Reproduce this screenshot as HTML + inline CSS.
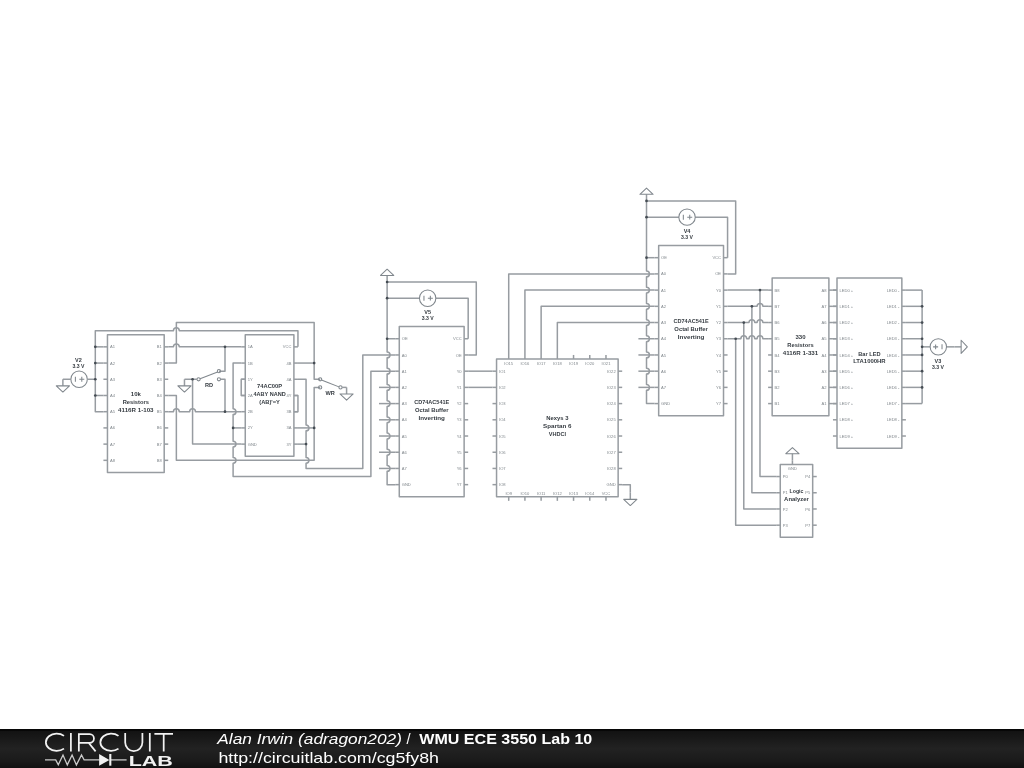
<!DOCTYPE html>
<html><head><meta charset="utf-8"><title>WMU ECE 3550 Lab 10 - CircuitLab</title>
<style>
html,body{margin:0;padding:0;background:#fff;}
body{width:1024px;height:768px;overflow:hidden;position:relative;font-family:"Liberation Sans",sans-serif;}
#sch{position:absolute;left:0;top:0;will-change:transform;}
svg .t{stroke:#80878d;stroke-width:1.05px;}
#ft{position:absolute;left:0;top:729px;width:1024px;height:39px;overflow:hidden;will-change:transform;}
</style></head><body>
<svg id="sch" width="1024" height="768" viewBox="0 0 1024 768">
<g fill="none" stroke="#979ca1" stroke-width="1.5" stroke-linejoin="round" stroke-linecap="butt">
<rect x="107.46" y="334.69" width="56.74" height="137.8"/>
<path d="M103.41 346.85 L107.46 346.85"/>
<path d="M103.41 363.06 L107.46 363.06"/>
<path d="M103.41 379.27 L107.46 379.27"/>
<path d="M103.41 395.49 L107.46 395.49"/>
<path d="M103.41 411.7 L107.46 411.7"/>
<path d="M103.41 427.91 L107.46 427.91"/>
<path d="M103.41 444.12 L107.46 444.12"/>
<path d="M103.41 460.33 L107.46 460.33"/>
<path d="M164.2 346.85 L168.25 346.85"/>
<path d="M164.2 363.06 L168.25 363.06"/>
<path d="M164.2 379.27 L168.25 379.27"/>
<path d="M164.2 395.49 L168.25 395.49"/>
<path d="M164.2 411.7 L168.25 411.7"/>
<path d="M164.2 427.91 L168.25 427.91"/>
<path d="M164.2 444.12 L168.25 444.12"/>
<path d="M164.2 460.33 L168.25 460.33"/>
<circle cx="79.09" cy="379.27" r="8.2" class="t"/>
<path d="M75.39 376.77 V381.77" class="t"/>
<path d="M79.29 379.27 H84.29 M81.79 376.87 V381.67" class="t"/>
<path d="M87.19 379.27 L95.3 379.27"/>
<path d="M70.98 379.27 L62.88 379.27"/>
<path d="M62.88 379.27 V385.87"/>
<path d="M56.28 385.87 H69.48 L62.88 392.07 Z" class="t"/>
<path d="M297.95 346.85 L297.95 330.64 L179.26 330.64 A2.9 2.9 0 0 0 173.46 330.64 L95.3 330.64 L95.3 411.7 L103.41 411.7"/>
<path d="M95.3 346.85 L103.41 346.85"/>
<path d="M95.3 363.06 L103.41 363.06"/>
<path d="M95.3 395.49 L103.41 395.49"/>
<path d="M168.25 363.06 L176.36 363.06 L176.36 322.53 L314.16 322.53 L314.16 379.27 L320.16 379.27"/>
<path d="M168.25 346.85 L173.46 346.85 A2.9 2.9 0 0 1 179.26 346.85 L241.21 346.85"/>
<path d="M225 346.85 L225 371.17 L218.92 371.17"/>
<circle cx="198.57" cy="379.27" r="1.6" class="t"/>
<circle cx="218.92" cy="371.17" r="1.6" class="t"/>
<circle cx="218.92" cy="379.27" r="1.6" class="t"/>
<path d="M200.07 378.77 L217.62 372.07" class="t"/>
<path d="M192.57 379.27 L196.95 379.27"/>
<path d="M220.54 379.27 L225 379.27 L225 411.7"/>
<path d="M192.57 379.27 L184.47 379.27"/>
<path d="M184.47 379.27 V385.87"/>
<path d="M177.87 385.87 H191.07 L184.47 392.07 Z" class="t"/>
<path d="M192.57 379.27 L192.57 444.12 L241.21 444.12"/>
<path d="M168.25 411.7 L173.46 411.7 A2.9 2.9 0 0 1 179.26 411.7 L189.67 411.7 A2.9 2.9 0 0 1 195.47 411.7 L241.21 411.7"/>
<path d="M168.25 395.49 L176.36 395.49 L176.36 460.33 L314.16 460.33 L314.16 387.38 L320.16 387.38"/>
<path d="M297.95 363.06 L314.16 363.06"/>
<path d="M241.21 363.06 L233.1 363.06 L233.1 408.8 A2.9 2.9 0 0 1 233.1 414.6 L233.1 441.22 A2.9 2.9 0 0 1 233.1 447.02 L233.1 457.43 A2.9 2.9 0 0 1 233.1 463.23 L233.1 476.55 L370.9 476.55 L370.9 371.17 L395.22 371.17"/>
<path d="M233.1 427.91 L241.21 427.91"/>
<path d="M245.26 379.27 L241.21 379.27 L241.21 395.49 L245.26 395.49"/>
<path d="M293.9 395.49 L297.95 395.49 L297.95 411.7 L293.9 411.7"/>
<path d="M297.95 379.27 L306.06 379.27 L306.06 425.01 A2.9 2.9 0 0 1 306.06 430.81 L306.06 457.43 A2.9 2.9 0 0 1 306.06 463.23 L306.06 468.44 L362.8 468.44 L362.8 354.96 L395.22 354.96"/>
<path d="M297.95 444.12 L306.06 444.12"/>
<path d="M297.95 427.91 L314.16 427.91"/>
<rect x="245.26" y="334.69" width="48.64" height="121.59"/>
<path d="M241.21 346.85 L245.26 346.85"/>
<path d="M241.21 363.06 L245.26 363.06"/>
<path d="M241.21 379.27 L245.26 379.27"/>
<path d="M241.21 395.49 L245.26 395.49"/>
<path d="M241.21 411.7 L245.26 411.7"/>
<path d="M241.21 427.91 L245.26 427.91"/>
<path d="M241.21 444.12 L245.26 444.12"/>
<path d="M293.9 346.85 L297.95 346.85"/>
<path d="M293.9 363.06 L297.95 363.06"/>
<path d="M293.9 379.27 L297.95 379.27"/>
<path d="M293.9 395.49 L297.95 395.49"/>
<path d="M293.9 411.7 L297.95 411.7"/>
<path d="M293.9 427.91 L297.95 427.91"/>
<path d="M293.9 444.12 L297.95 444.12"/>
<circle cx="320.16" cy="379.27" r="1.6" class="t"/>
<circle cx="320.16" cy="387.38" r="1.6" class="t"/>
<circle cx="340.51" cy="387.38" r="1.6" class="t"/>
<path d="M321.46 380.07 L339.01 386.88" class="t"/>
<path d="M342.13 387.38 L346.59 387.38"/>
<path d="M346.59 387.38 V393.98"/>
<path d="M339.99 393.98 H353.19 L346.59 400.18 Z" class="t"/>
<rect x="399.28" y="326.59" width="64.85" height="170.23"/>
<path d="M395.22 338.74 L399.28 338.74"/>
<path d="M395.22 354.96 L399.28 354.96"/>
<path d="M395.22 371.17 L399.28 371.17"/>
<path d="M395.22 387.38 L399.28 387.38"/>
<path d="M395.22 403.59 L399.28 403.59"/>
<path d="M395.22 419.8 L399.28 419.8"/>
<path d="M395.22 436.02 L399.28 436.02"/>
<path d="M395.22 452.23 L399.28 452.23"/>
<path d="M395.22 468.44 L399.28 468.44"/>
<path d="M395.22 484.65 L399.28 484.65"/>
<path d="M464.12 338.74 L468.18 338.74"/>
<path d="M464.12 354.96 L468.18 354.96"/>
<path d="M464.12 371.17 L468.18 371.17"/>
<path d="M464.12 387.38 L468.18 387.38"/>
<path d="M464.12 403.59 L468.18 403.59"/>
<path d="M464.12 419.8 L468.18 419.8"/>
<path d="M464.12 436.02 L468.18 436.02"/>
<path d="M464.12 452.23 L468.18 452.23"/>
<path d="M464.12 468.44 L468.18 468.44"/>
<path d="M464.12 484.65 L468.18 484.65"/>
<path d="M387.12 282 L387.12 352.06 A2.9 2.9 0 0 1 387.12 357.86 L387.12 368.27 A2.9 2.9 0 0 1 387.12 374.07 L387.12 384.48 A2.9 2.9 0 0 1 387.12 390.28 L387.12 400.69 A2.9 2.9 0 0 1 387.12 406.49 L387.12 416.9 A2.9 2.9 0 0 1 387.12 422.7 L387.12 433.12 A2.9 2.9 0 0 1 387.12 438.92 L387.12 449.33 A2.9 2.9 0 0 1 387.12 455.13 L387.12 465.54 A2.9 2.9 0 0 1 387.12 471.34 L387.12 484.65 L395.22 484.65"/>
<path d="M387.12 282 V275.4"/>
<path d="M380.52 275.4 H393.72 L387.12 269.2 Z" class="t"/>
<path d="M387.12 338.74 L395.22 338.74"/>
<path d="M387.12 282 L476.28 282 L476.28 354.96 L468.18 354.96"/>
<path d="M387.12 298.21 L419.54 298.21"/>
<path d="M435.75 298.21 L468.18 298.21 L468.18 338.74"/>
<circle cx="427.65" cy="298.21" r="8.2" class="t"/>
<path d="M423.95 295.71 V300.71" class="t"/>
<path d="M427.85 298.21 H432.85 M430.35 295.81 V300.61" class="t"/>
<path d="M379.01 387.38 L395.22 387.38"/>
<path d="M379.01 403.59 L395.22 403.59"/>
<path d="M379.01 419.8 L395.22 419.8"/>
<path d="M379.01 436.02 L395.22 436.02"/>
<path d="M379.01 452.23 L395.22 452.23"/>
<path d="M379.01 468.44 L395.22 468.44"/>
<path d="M468.18 371.17 L492.49 371.17"/>
<path d="M468.18 387.38 L492.49 387.38"/>
<rect x="496.55" y="359.01" width="121.59" height="137.8"/>
<path d="M492.49 371.17 L496.55 371.17"/>
<path d="M492.49 387.38 L496.55 387.38"/>
<path d="M492.49 403.59 L496.55 403.59"/>
<path d="M492.49 419.8 L496.55 419.8"/>
<path d="M492.49 436.02 L496.55 436.02"/>
<path d="M492.49 452.23 L496.55 452.23"/>
<path d="M492.49 468.44 L496.55 468.44"/>
<path d="M492.49 484.65 L496.55 484.65"/>
<path d="M618.14 371.17 L622.19 371.17"/>
<path d="M618.14 387.38 L622.19 387.38"/>
<path d="M618.14 403.59 L622.19 403.59"/>
<path d="M618.14 419.8 L622.19 419.8"/>
<path d="M618.14 436.02 L622.19 436.02"/>
<path d="M618.14 452.23 L622.19 452.23"/>
<path d="M618.14 468.44 L622.19 468.44"/>
<path d="M618.14 484.65 L622.19 484.65"/>
<path d="M508.71 354.96 L508.71 359.01"/>
<path d="M524.92 354.96 L524.92 359.01"/>
<path d="M541.13 354.96 L541.13 359.01"/>
<path d="M557.34 354.96 L557.34 359.01"/>
<path d="M573.55 354.96 L573.55 359.01"/>
<path d="M589.77 354.96 L589.77 359.01"/>
<path d="M605.98 354.96 L605.98 359.01"/>
<path d="M508.71 496.81 L508.71 500.86"/>
<path d="M524.92 496.81 L524.92 500.86"/>
<path d="M541.13 496.81 L541.13 500.86"/>
<path d="M557.34 496.81 L557.34 500.86"/>
<path d="M573.55 496.81 L573.55 500.86"/>
<path d="M589.77 496.81 L589.77 500.86"/>
<path d="M605.98 496.81 L605.98 500.86"/>
<path d="M622.19 484.65 L630.3 484.65 L630.3 492.76"/>
<path d="M630.3 492.76 V499.36"/>
<path d="M623.7 499.36 H636.9 L630.3 505.56 Z" class="t"/>
<path d="M508.71 354.96 L508.71 273.9 L654.61 273.9"/>
<path d="M524.92 354.96 L524.92 290.11 L654.61 290.11"/>
<path d="M541.13 354.96 L541.13 306.32 L654.61 306.32"/>
<path d="M557.34 354.96 L557.34 322.53 L654.61 322.53"/>
<rect x="658.67" y="245.53" width="64.85" height="170.23"/>
<path d="M654.61 257.68 L658.67 257.68"/>
<path d="M654.61 273.9 L658.67 273.9"/>
<path d="M654.61 290.11 L658.67 290.11"/>
<path d="M654.61 306.32 L658.67 306.32"/>
<path d="M654.61 322.53 L658.67 322.53"/>
<path d="M654.61 338.74 L658.67 338.74"/>
<path d="M654.61 354.96 L658.67 354.96"/>
<path d="M654.61 371.17 L658.67 371.17"/>
<path d="M654.61 387.38 L658.67 387.38"/>
<path d="M654.61 403.59 L658.67 403.59"/>
<path d="M723.51 257.68 L727.57 257.68"/>
<path d="M723.51 273.9 L727.57 273.9"/>
<path d="M723.51 290.11 L727.57 290.11"/>
<path d="M723.51 306.32 L727.57 306.32"/>
<path d="M723.51 322.53 L727.57 322.53"/>
<path d="M723.51 338.74 L727.57 338.74"/>
<path d="M723.51 354.96 L727.57 354.96"/>
<path d="M723.51 371.17 L727.57 371.17"/>
<path d="M723.51 387.38 L727.57 387.38"/>
<path d="M723.51 403.59 L727.57 403.59"/>
<path d="M646.51 200.94 L646.51 271 A2.9 2.9 0 0 1 646.51 276.8 L646.51 287.21 A2.9 2.9 0 0 1 646.51 293.01 L646.51 303.42 A2.9 2.9 0 0 1 646.51 309.22 L646.51 319.63 A2.9 2.9 0 0 1 646.51 325.43 L646.51 335.84 A2.9 2.9 0 0 1 646.51 341.64 L646.51 352.06 A2.9 2.9 0 0 1 646.51 357.86 L646.51 368.27 A2.9 2.9 0 0 1 646.51 374.07 L646.51 384.48 A2.9 2.9 0 0 1 646.51 390.28 L646.51 403.59 L654.61 403.59"/>
<path d="M646.51 200.94 V194.34"/>
<path d="M639.91 194.34 H653.11 L646.51 188.14 Z" class="t"/>
<path d="M646.51 257.68 L654.61 257.68"/>
<path d="M646.51 200.94 L735.67 200.94 L735.67 273.9 L727.57 273.9"/>
<path d="M646.51 217.15 L678.93 217.15"/>
<path d="M695.14 217.15 L727.57 217.15 L727.57 257.68"/>
<circle cx="687.04" cy="217.15" r="8.2" class="t"/>
<path d="M683.34 214.65 V219.65" class="t"/>
<path d="M687.24 217.15 H692.24 M689.74 214.75 V219.55" class="t"/>
<path d="M638.4 338.74 L654.61 338.74"/>
<path d="M638.4 354.96 L654.61 354.96"/>
<path d="M638.4 371.17 L654.61 371.17"/>
<path d="M638.4 387.38 L654.61 387.38"/>
<path d="M727.57 290.11 L768.1 290.11"/>
<path d="M727.57 306.32 L757.09 306.32 A2.9 2.9 0 0 1 762.89 306.32 L768.1 306.32"/>
<path d="M727.57 322.53 L748.99 322.53 A2.9 2.9 0 0 1 754.79 322.53 L757.09 322.53 A2.9 2.9 0 0 1 762.89 322.53 L768.1 322.53"/>
<path d="M727.57 338.74 L740.88 338.74 A2.9 2.9 0 0 1 746.68 338.74 L748.99 338.74 A2.9 2.9 0 0 1 754.79 338.74 L757.09 338.74 A2.9 2.9 0 0 1 762.89 338.74 L768.1 338.74"/>
<path d="M759.99 290.11 L759.99 476.55 L776.2 476.55"/>
<path d="M751.89 306.32 L751.89 492.76 L776.2 492.76"/>
<path d="M743.78 322.53 L743.78 508.97 L776.2 508.97"/>
<path d="M735.67 338.74 L735.67 525.18 L776.2 525.18"/>
<rect x="772.15" y="277.95" width="56.74" height="137.8"/>
<path d="M768.1 290.11 L772.15 290.11"/>
<path d="M768.1 306.32 L772.15 306.32"/>
<path d="M768.1 322.53 L772.15 322.53"/>
<path d="M768.1 338.74 L772.15 338.74"/>
<path d="M768.1 354.96 L772.15 354.96"/>
<path d="M768.1 371.17 L772.15 371.17"/>
<path d="M768.1 387.38 L772.15 387.38"/>
<path d="M768.1 403.59 L772.15 403.59"/>
<path d="M828.89 290.11 L832.95 290.11"/>
<path d="M828.89 306.32 L832.95 306.32"/>
<path d="M828.89 322.53 L832.95 322.53"/>
<path d="M828.89 338.74 L832.95 338.74"/>
<path d="M828.89 354.96 L832.95 354.96"/>
<path d="M828.89 371.17 L832.95 371.17"/>
<path d="M828.89 387.38 L832.95 387.38"/>
<path d="M828.89 403.59 L832.95 403.59"/>
<path d="M832.95 290.11 L837 290.11"/>
<path d="M832.95 306.32 L837 306.32"/>
<path d="M832.95 322.53 L837 322.53"/>
<path d="M832.95 338.74 L837 338.74"/>
<path d="M832.95 354.96 L837 354.96"/>
<path d="M832.95 371.17 L837 371.17"/>
<path d="M832.95 387.38 L837 387.38"/>
<path d="M832.95 403.59 L837 403.59"/>
<rect x="837" y="277.95" width="64.85" height="170.23"/>
<path d="M832.95 290.11 L837 290.11"/>
<path d="M832.95 306.32 L837 306.32"/>
<path d="M832.95 322.53 L837 322.53"/>
<path d="M832.95 338.74 L837 338.74"/>
<path d="M832.95 354.96 L837 354.96"/>
<path d="M832.95 371.17 L837 371.17"/>
<path d="M832.95 387.38 L837 387.38"/>
<path d="M832.95 403.59 L837 403.59"/>
<path d="M832.95 419.8 L837 419.8"/>
<path d="M832.95 436.02 L837 436.02"/>
<path d="M901.85 290.11 L905.9 290.11"/>
<path d="M901.85 306.32 L905.9 306.32"/>
<path d="M901.85 322.53 L905.9 322.53"/>
<path d="M901.85 338.74 L905.9 338.74"/>
<path d="M901.85 354.96 L905.9 354.96"/>
<path d="M901.85 371.17 L905.9 371.17"/>
<path d="M901.85 387.38 L905.9 387.38"/>
<path d="M901.85 403.59 L905.9 403.59"/>
<path d="M901.85 419.8 L905.9 419.8"/>
<path d="M901.85 436.02 L905.9 436.02"/>
<path d="M905.9 290.11 L922.11 290.11"/>
<path d="M905.9 306.32 L922.11 306.32"/>
<path d="M905.9 322.53 L922.11 322.53"/>
<path d="M905.9 338.74 L922.11 338.74"/>
<path d="M905.9 354.96 L922.11 354.96"/>
<path d="M905.9 371.17 L922.11 371.17"/>
<path d="M905.9 387.38 L922.11 387.38"/>
<path d="M905.9 403.59 L922.11 403.59"/>
<path d="M922.11 290.11 L922.11 403.59"/>
<path d="M922.11 346.85 L930.22 346.85"/>
<path d="M946.43 346.85 L954.54 346.85"/>
<circle cx="938.32" cy="346.85" r="8.2" class="t"/>
<path d="M942.02 344.35 V349.35" class="t"/>
<path d="M933.12 346.85 H938.12 M935.62 344.45 V349.25" class="t"/>
<path d="M954.54 346.85 H961.14"/>
<path d="M961.14 340.25 V353.45 L967.34 346.85 Z" class="t"/>
<rect x="780.26" y="464.39" width="32.42" height="72.95"/>
<path d="M776.2 476.55 L780.26 476.55"/>
<path d="M776.2 492.76 L780.26 492.76"/>
<path d="M776.2 508.97 L780.26 508.97"/>
<path d="M776.2 525.18 L780.26 525.18"/>
<path d="M812.68 476.55 L816.73 476.55"/>
<path d="M812.68 492.76 L816.73 492.76"/>
<path d="M812.68 508.97 L816.73 508.97"/>
<path d="M812.68 525.18 L816.73 525.18"/>
<path d="M792.42 460.33 L792.42 464.39"/>
<path d="M792.42 460.33 V453.73"/>
<path d="M785.82 453.73 H799.02 L792.42 447.53 Z" class="t"/>
</g>
<g fill="#454c53">
<circle cx="95.3" cy="346.85" r="1.35"/>
<circle cx="95.3" cy="363.06" r="1.35"/>
<circle cx="95.3" cy="379.27" r="1.35"/>
<circle cx="95.3" cy="395.49" r="1.35"/>
<circle cx="225" cy="346.85" r="1.35"/>
<circle cx="225" cy="411.7" r="1.35"/>
<circle cx="192.57" cy="379.27" r="1.35"/>
<circle cx="314.16" cy="427.91" r="1.35"/>
<circle cx="314.16" cy="363.06" r="1.35"/>
<circle cx="233.1" cy="427.91" r="1.35"/>
<circle cx="306.06" cy="444.12" r="1.35"/>
<circle cx="387.12" cy="282" r="1.35"/>
<circle cx="387.12" cy="298.21" r="1.35"/>
<circle cx="387.12" cy="338.74" r="1.35"/>
<circle cx="646.51" cy="200.94" r="1.35"/>
<circle cx="646.51" cy="217.15" r="1.35"/>
<circle cx="646.51" cy="257.68" r="1.35"/>
<circle cx="759.99" cy="290.11" r="1.35"/>
<circle cx="751.89" cy="306.32" r="1.35"/>
<circle cx="743.78" cy="322.53" r="1.35"/>
<circle cx="735.67" cy="338.74" r="1.35"/>
<circle cx="922.11" cy="306.32" r="1.35"/>
<circle cx="922.11" cy="322.53" r="1.35"/>
<circle cx="922.11" cy="338.74" r="1.35"/>
<circle cx="922.11" cy="346.85" r="1.35"/>
<circle cx="922.11" cy="354.96" r="1.35"/>
<circle cx="922.11" cy="371.17" r="1.35"/>
<circle cx="922.11" cy="387.38" r="1.35"/>
</g>
<g font-family="Liberation Sans, sans-serif" fill="#353b41">
<text x="135.83" y="395.9" font-size="6" font-weight="bold" text-anchor="middle" textLength="10.1" lengthAdjust="spacingAndGlyphs">10k</text>
<text x="135.83" y="403.75" font-size="6" font-weight="bold" text-anchor="middle" textLength="26.3" lengthAdjust="spacingAndGlyphs">Resistors</text>
<text x="135.83" y="411.6" font-size="6" font-weight="bold" text-anchor="middle" textLength="35.5" lengthAdjust="spacingAndGlyphs">4116R 1-103</text>
<text x="78.49" y="362.3" font-size="5.5" font-weight="bold" text-anchor="middle">V2</text>
<text x="78.49" y="368" font-size="5.5" font-weight="bold" text-anchor="middle" textLength="12" lengthAdjust="spacingAndGlyphs">3.3 V</text>
<text x="209.08" y="386.6" font-size="5.6" font-weight="bold" text-anchor="middle">RD</text>
<text x="269.58" y="387.8" font-size="6" font-weight="bold" text-anchor="middle" textLength="25" lengthAdjust="spacingAndGlyphs">74AC00P</text>
<text x="269.58" y="395.65" font-size="6" font-weight="bold" text-anchor="middle" textLength="32.2" lengthAdjust="spacingAndGlyphs">4ABY NAND</text>
<text x="269.58" y="403.5" font-size="6" font-weight="bold" text-anchor="middle" textLength="20.7" lengthAdjust="spacingAndGlyphs">(AB)'=Y</text>
<text x="330.2" y="394.7" font-size="5.6" font-weight="bold" text-anchor="middle">WR</text>
<text x="431.7" y="403.9" font-size="6" font-weight="bold" text-anchor="middle" textLength="35.15" lengthAdjust="spacingAndGlyphs">CD74AC541E</text>
<text x="431.7" y="411.75" font-size="6" font-weight="bold" text-anchor="middle" textLength="33.45" lengthAdjust="spacingAndGlyphs">Octal Buffer</text>
<text x="431.7" y="419.6" font-size="6" font-weight="bold" text-anchor="middle" textLength="26.4" lengthAdjust="spacingAndGlyphs">Inverting</text>
<text x="427.65" y="314.1" font-size="5.5" font-weight="bold" text-anchor="middle">V5</text>
<text x="427.65" y="320" font-size="5.5" font-weight="bold" text-anchor="middle" textLength="12" lengthAdjust="spacingAndGlyphs">3.3 V</text>
<text x="557.34" y="420" font-size="6" font-weight="bold" text-anchor="middle" textLength="22.2" lengthAdjust="spacingAndGlyphs">Nexys 3</text>
<text x="557.34" y="427.85" font-size="6" font-weight="bold" text-anchor="middle" textLength="28.4" lengthAdjust="spacingAndGlyphs">Spartan 6</text>
<text x="557.34" y="435.7" font-size="6" font-weight="bold" text-anchor="middle" textLength="17.2" lengthAdjust="spacingAndGlyphs">VHDCI</text>
<text x="691.09" y="323.2" font-size="6" font-weight="bold" text-anchor="middle" textLength="35.15" lengthAdjust="spacingAndGlyphs">CD74AC541E</text>
<text x="691.09" y="331.05" font-size="6" font-weight="bold" text-anchor="middle" textLength="33.45" lengthAdjust="spacingAndGlyphs">Octal Buffer</text>
<text x="691.09" y="338.9" font-size="6" font-weight="bold" text-anchor="middle" textLength="26.4" lengthAdjust="spacingAndGlyphs">Inverting</text>
<text x="687.04" y="233" font-size="5.5" font-weight="bold" text-anchor="middle">V4</text>
<text x="687.04" y="239" font-size="5.5" font-weight="bold" text-anchor="middle" textLength="12" lengthAdjust="spacingAndGlyphs">3.3 V</text>
<text x="800.52" y="339" font-size="6" font-weight="bold" text-anchor="middle" textLength="10.1" lengthAdjust="spacingAndGlyphs">330</text>
<text x="800.52" y="346.85" font-size="6" font-weight="bold" text-anchor="middle" textLength="26.3" lengthAdjust="spacingAndGlyphs">Resistors</text>
<text x="800.52" y="354.7" font-size="6" font-weight="bold" text-anchor="middle" textLength="35.5" lengthAdjust="spacingAndGlyphs">4116R 1-331</text>
<text x="869.42" y="355.6" font-size="6" font-weight="bold" text-anchor="middle" textLength="22.25" lengthAdjust="spacingAndGlyphs">Bar LED</text>
<text x="869.42" y="363" font-size="6" font-weight="bold" text-anchor="middle" textLength="32.5" lengthAdjust="spacingAndGlyphs">LTA1000HR</text>
<text x="937.92" y="362.75" font-size="5.5" font-weight="bold" text-anchor="middle">V3</text>
<text x="937.92" y="368.7" font-size="5.5" font-weight="bold" text-anchor="middle" textLength="12" lengthAdjust="spacingAndGlyphs">3.3 V</text>
<text x="796.47" y="493" font-size="6" font-weight="bold" text-anchor="middle" textLength="13.9" lengthAdjust="spacingAndGlyphs">Logic</text>
<text x="796.47" y="500.6" font-size="6" font-weight="bold" text-anchor="middle" textLength="24.7" lengthAdjust="spacingAndGlyphs">Analyzer</text>
</g>
<g font-family="Liberation Sans, sans-serif" font-size="4.1" fill="#80878c">
<text x="109.91" y="348.4">A1</text>
<text x="109.91" y="364.61">A2</text>
<text x="109.91" y="380.82">A3</text>
<text x="109.91" y="397.04">A4</text>
<text x="109.91" y="413.25">A5</text>
<text x="109.91" y="429.46">A6</text>
<text x="109.91" y="445.67">A7</text>
<text x="109.91" y="461.88">A8</text>
<text x="161.75" y="348.4" text-anchor="end">B1</text>
<text x="161.75" y="364.61" text-anchor="end">B2</text>
<text x="161.75" y="380.82" text-anchor="end">B3</text>
<text x="161.75" y="397.04" text-anchor="end">B4</text>
<text x="161.75" y="413.25" text-anchor="end">B5</text>
<text x="161.75" y="429.46" text-anchor="end">B6</text>
<text x="161.75" y="445.67" text-anchor="end">B7</text>
<text x="161.75" y="461.88" text-anchor="end">B8</text>
<text x="247.71" y="348.4">1A</text>
<text x="247.71" y="364.61">1B</text>
<text x="247.71" y="380.82">1Y</text>
<text x="247.71" y="397.04">2A</text>
<text x="247.71" y="413.25">2B</text>
<text x="247.71" y="429.46">2Y</text>
<text x="247.71" y="445.67">GND</text>
<text x="291.45" y="348.4" text-anchor="end">VCC</text>
<text x="291.45" y="364.61" text-anchor="end">4B</text>
<text x="291.45" y="380.82" text-anchor="end">4A</text>
<text x="291.45" y="397.04" text-anchor="end">4Y</text>
<text x="291.45" y="413.25" text-anchor="end">3B</text>
<text x="291.45" y="429.46" text-anchor="end">3A</text>
<text x="291.45" y="445.67" text-anchor="end">3Y</text>
<text x="401.73" y="340.29">OE</text>
<text x="401.73" y="356.51">A0</text>
<text x="401.73" y="372.72">A1</text>
<text x="401.73" y="388.93">A2</text>
<text x="401.73" y="405.14">A3</text>
<text x="401.73" y="421.35">A4</text>
<text x="401.73" y="437.57">A5</text>
<text x="401.73" y="453.78">A6</text>
<text x="401.73" y="469.99">A7</text>
<text x="401.73" y="486.2">GND</text>
<text x="461.67" y="340.29" text-anchor="end">VCC</text>
<text x="461.67" y="356.51" text-anchor="end">OE</text>
<text x="461.67" y="372.72" text-anchor="end">Y0</text>
<text x="461.67" y="388.93" text-anchor="end">Y1</text>
<text x="461.67" y="405.14" text-anchor="end">Y2</text>
<text x="461.67" y="421.35" text-anchor="end">Y3</text>
<text x="461.67" y="437.57" text-anchor="end">Y4</text>
<text x="461.67" y="453.78" text-anchor="end">Y5</text>
<text x="461.67" y="469.99" text-anchor="end">Y6</text>
<text x="461.67" y="486.2" text-anchor="end">Y7</text>
<text x="499" y="372.72">IO1</text>
<text x="499" y="388.93">IO2</text>
<text x="499" y="405.14">IO3</text>
<text x="499" y="421.35">IO4</text>
<text x="499" y="437.57">IO5</text>
<text x="499" y="453.78">IO6</text>
<text x="499" y="469.99">IO7</text>
<text x="499" y="486.2">IO8</text>
<text x="615.69" y="372.72" text-anchor="end">IO22</text>
<text x="615.69" y="388.93" text-anchor="end">IO23</text>
<text x="615.69" y="405.14" text-anchor="end">IO24</text>
<text x="615.69" y="421.35" text-anchor="end">IO25</text>
<text x="615.69" y="437.57" text-anchor="end">IO26</text>
<text x="615.69" y="453.78" text-anchor="end">IO27</text>
<text x="615.69" y="469.99" text-anchor="end">IO28</text>
<text x="615.69" y="486.2" text-anchor="end">GND</text>
<text x="508.71" y="364.91" text-anchor="middle">IO15</text>
<text x="524.92" y="364.91" text-anchor="middle">IO16</text>
<text x="541.13" y="364.91" text-anchor="middle">IO17</text>
<text x="557.34" y="364.91" text-anchor="middle">IO18</text>
<text x="573.55" y="364.91" text-anchor="middle">IO19</text>
<text x="589.77" y="364.91" text-anchor="middle">IO20</text>
<text x="605.98" y="364.91" text-anchor="middle">IO21</text>
<text x="508.71" y="494.91" text-anchor="middle">IO9</text>
<text x="524.92" y="494.91" text-anchor="middle">IO10</text>
<text x="541.13" y="494.91" text-anchor="middle">IO11</text>
<text x="557.34" y="494.91" text-anchor="middle">IO12</text>
<text x="573.55" y="494.91" text-anchor="middle">IO13</text>
<text x="589.77" y="494.91" text-anchor="middle">IO14</text>
<text x="605.98" y="494.91" text-anchor="middle">VCC</text>
<text x="661.12" y="259.23">OE</text>
<text x="661.12" y="275.45">A0</text>
<text x="661.12" y="291.66">A1</text>
<text x="661.12" y="307.87">A2</text>
<text x="661.12" y="324.08">A3</text>
<text x="661.12" y="340.29">A4</text>
<text x="661.12" y="356.51">A5</text>
<text x="661.12" y="372.72">A6</text>
<text x="661.12" y="388.93">A7</text>
<text x="661.12" y="405.14">GND</text>
<text x="721.06" y="259.23" text-anchor="end">VCC</text>
<text x="721.06" y="275.45" text-anchor="end">OE</text>
<text x="721.06" y="291.66" text-anchor="end">Y0</text>
<text x="721.06" y="307.87" text-anchor="end">Y1</text>
<text x="721.06" y="324.08" text-anchor="end">Y2</text>
<text x="721.06" y="340.29" text-anchor="end">Y3</text>
<text x="721.06" y="356.51" text-anchor="end">Y4</text>
<text x="721.06" y="372.72" text-anchor="end">Y5</text>
<text x="721.06" y="388.93" text-anchor="end">Y6</text>
<text x="721.06" y="405.14" text-anchor="end">Y7</text>
<text x="774.6" y="291.66">B8</text>
<text x="774.6" y="307.87">B7</text>
<text x="774.6" y="324.08">B6</text>
<text x="774.6" y="340.29">B5</text>
<text x="774.6" y="356.51">B4</text>
<text x="774.6" y="372.72">B3</text>
<text x="774.6" y="388.93">B2</text>
<text x="774.6" y="405.14">B1</text>
<text x="826.44" y="291.66" text-anchor="end">A8</text>
<text x="826.44" y="307.87" text-anchor="end">A7</text>
<text x="826.44" y="324.08" text-anchor="end">A6</text>
<text x="826.44" y="340.29" text-anchor="end">A5</text>
<text x="826.44" y="356.51" text-anchor="end">A4</text>
<text x="826.44" y="372.72" text-anchor="end">A3</text>
<text x="826.44" y="388.93" text-anchor="end">A2</text>
<text x="826.44" y="405.14" text-anchor="end">A1</text>
<text x="839.45" y="291.66">LED0 +</text>
<text x="839.45" y="307.87">LED1 +</text>
<text x="839.45" y="324.08">LED2 +</text>
<text x="839.45" y="340.29">LED3 +</text>
<text x="839.45" y="356.51">LED4 +</text>
<text x="839.45" y="372.72">LED5 +</text>
<text x="839.45" y="388.93">LED6 +</text>
<text x="839.45" y="405.14">LED7 +</text>
<text x="839.45" y="421.35">LED8 +</text>
<text x="839.45" y="437.57">LED9 +</text>
<text x="899.4" y="291.66" text-anchor="end">LED0 -</text>
<text x="899.4" y="307.87" text-anchor="end">LED1 -</text>
<text x="899.4" y="324.08" text-anchor="end">LED2 -</text>
<text x="899.4" y="340.29" text-anchor="end">LED3 -</text>
<text x="899.4" y="356.51" text-anchor="end">LED4 -</text>
<text x="899.4" y="372.72" text-anchor="end">LED5 -</text>
<text x="899.4" y="388.93" text-anchor="end">LED6 -</text>
<text x="899.4" y="405.14" text-anchor="end">LED7 -</text>
<text x="899.4" y="421.35" text-anchor="end">LED8 -</text>
<text x="899.4" y="437.57" text-anchor="end">LED9 -</text>
<text x="782.71" y="478.1">P0</text>
<text x="782.71" y="494.31">P1</text>
<text x="782.71" y="510.52">P2</text>
<text x="782.71" y="526.73">P3</text>
<text x="810.23" y="478.1" text-anchor="end">P4</text>
<text x="810.23" y="494.31" text-anchor="end">P5</text>
<text x="810.23" y="510.52" text-anchor="end">P6</text>
<text x="810.23" y="526.73" text-anchor="end">P7</text>
<text x="792.42" y="470.29" text-anchor="middle">GND</text>
</g>
</svg>

<div id="ft">
 <svg width="1024" height="39" viewBox="0 729 1024 39" style="position:absolute;left:0;top:0">
  <defs>
   <linearGradient id="fg" x1="0" y1="729" x2="0" y2="768" gradientUnits="userSpaceOnUse">
    <stop offset="0" stop-color="#0a0a0a"/>
    <stop offset="0.07" stop-color="#131313"/>
    <stop offset="0.5" stop-color="#222222"/>
    <stop offset="0.82" stop-color="#1a1a1a"/>
    <stop offset="1" stop-color="#111111"/>
   </linearGradient>
  </defs>
  <rect x="0" y="729" width="1024" height="39" fill="url(#fg)"/>
  <rect x="0" y="729.4" width="1024" height="1.3" fill="#050505"/>
  <g stroke="#f2f2f2" stroke-width="1.75" fill="none">
   <path d="M64 735.9 A10.8 8.65 0 1 0 64 748.6"/>
   <path d="M70.9 733 V751.6"/>
   <path d="M78.85 751.6 V734.1 H89.6 A4.35 4.35 0 0 1 89.6 742.8 H78.85 M88.6 742.8 L95.6 751.4"/>
   <path d="M118.5 735.9 A10.8 8.65 0 1 0 118.5 748.6"/>
   <path d="M125.2 733 V742.45 A8.6 8.6 0 0 0 142.4 742.45 V733"/>
   <path d="M149.8 733 V751.5"/>
   <path d="M154.4 733.8 H173 M163.7 733.8 V751.5"/>
  </g>
  <g stroke="#c9c9c9" stroke-width="1.3" fill="none" stroke-linejoin="miter">
   <path d="M45 759.9 H55.7 L58.3 764.9 L63 755 L67.3 764.9 L72.1 755 L76.4 764.9 L81.5 755 L84.1 759.9 H99.5"/>
   <path d="M110 759.9 H126.6"/>
  </g>
  <path d="M110.3 754 V765.7" stroke="#f2f2f2" stroke-width="2.1"/>
  <path d="M99.1 754.1 L109.4 759.9 L99.1 765.7 Z" fill="#f2f2f2"/>
  <text x="128.7" y="765.5" font-family="Liberation Sans, sans-serif" font-size="15.3" font-weight="bold" fill="#f2f2f2" textLength="44.2" lengthAdjust="spacingAndGlyphs">LAB</text>
  <text x="217.3" y="744.3" font-family="Liberation Sans, sans-serif" font-size="14.6" fill="#ffffff"><tspan font-style="italic" textLength="184.6" lengthAdjust="spacingAndGlyphs">Alan Irwin (adragon202)</tspan><tspan x="406.5">/</tspan><tspan x="419.3" font-weight="bold" textLength="173" lengthAdjust="spacingAndGlyphs">WMU ECE 3550 Lab 10</tspan></text>
  <text x="218.4" y="762.8" font-family="Liberation Sans, sans-serif" font-size="14.6" fill="#ffffff" textLength="220.6" lengthAdjust="spacingAndGlyphs">http://circuitlab.com/cg5fy8h</text>
 </svg>
</div>

</body></html>
